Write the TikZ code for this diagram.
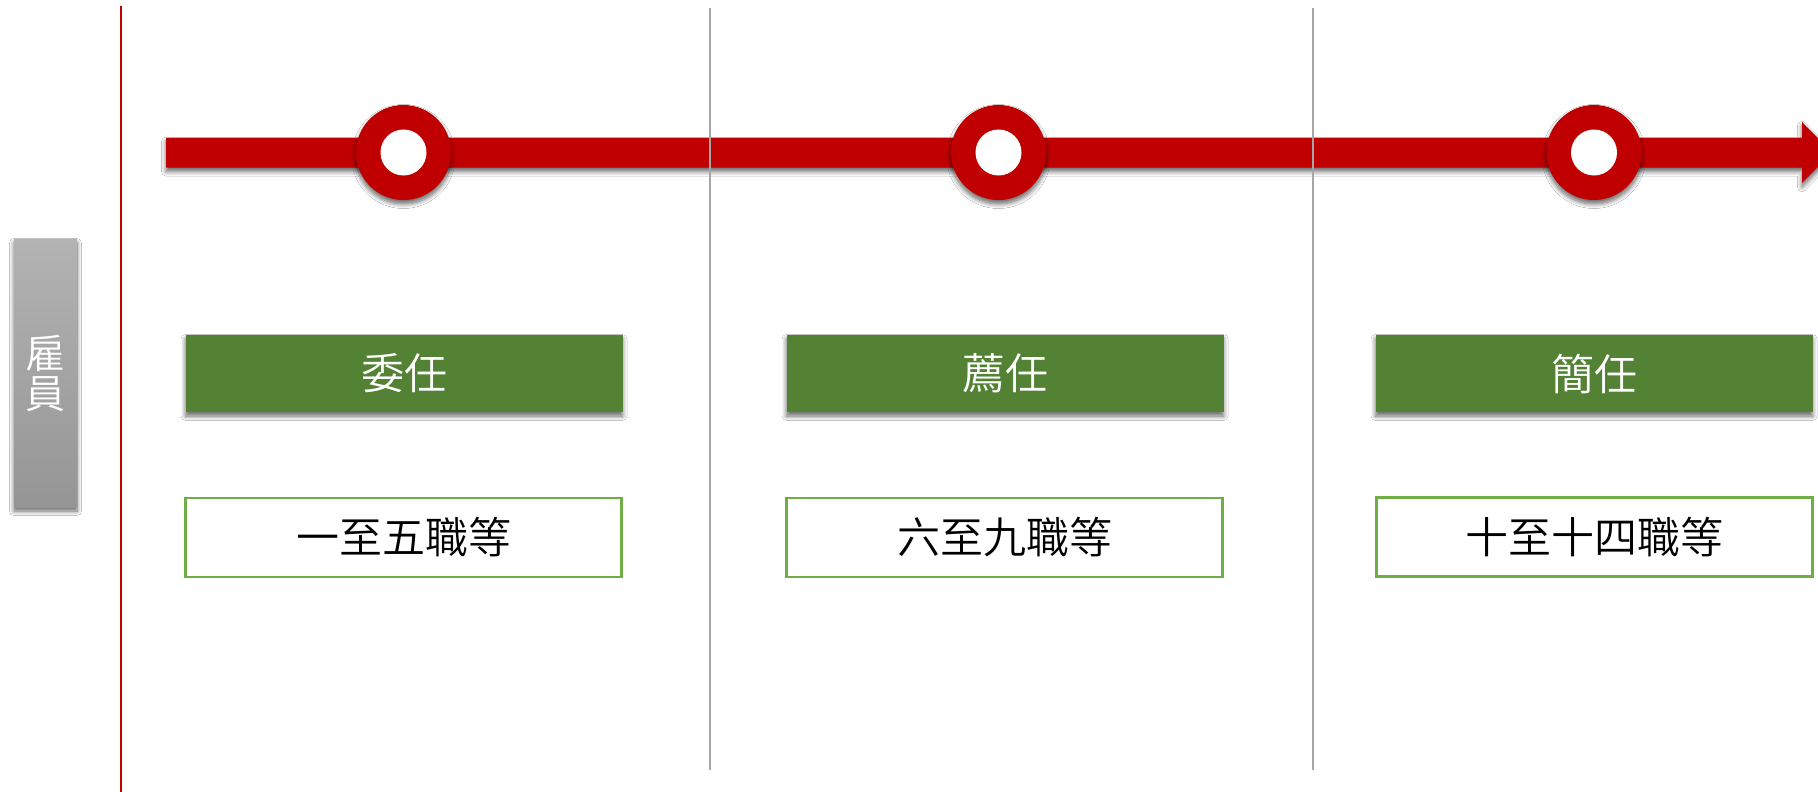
\documentclass[tikz,border=0pt]{standalone}
\usepackage{fontspec}
\newfontfamily\cjk{Noto Sans CJK TC}[UprightFont=* DemiLight]
\usetikzlibrary{shadows.blur}
\definecolor{barred}{HTML}{C00000}
\definecolor{rankgreen}{HTML}{548235}
\definecolor{edgegreen}{HTML}{70AD47}
\definecolor{divgray}{HTML}{A6A6A6}
\definecolor{boxtop}{HTML}{B3B3B3}
\definecolor{boxbot}{HTML}{959595}
\tikzset{
  softshadow/.style={blur shadow={shadow xshift=0pt, shadow yshift=-4pt, shadow blur radius=4.5pt, shadow blur steps=8, shadow opacity=60}},
  rankbox/.style={rectangle, fill=rankgreen, inner sep=0pt, minimum width=437, minimum height=77, text=white, font=\cjk\fontsize{43}{43}\selectfont, softshadow},
  gradebox/.style={rectangle, draw=edgegreen, line width=2.5pt, fill=white, inner sep=0pt, minimum width=436, minimum height=79, text=black, font=\cjk\fontsize{43}{43}\selectfont},
  divider/.style={draw=divgray, line width=2.5pt},
  ringouter/.style={circle, fill=barred, inner sep=0pt, minimum size=95, softshadow},
  ringinner/.style={circle, fill=white, inner sep=0pt, minimum size=46},
  sidebox/.style={rectangle, top color=boxtop, bottom color=boxbot, inner sep=0pt, minimum width=63, minimum height=268, text=white, font=\cjk\fontsize{40}{42}\selectfont, align=center, softshadow}
}
\begin{document}
\begin{tikzpicture}[x=1pt,y=-1pt]
\useasboundingbox (0,0) rectangle (1818,792);
\fill[white] (0,0) rectangle (1818,792);

% red timeline bar with arrow head
\fill[barred, softshadow] (166,137.5) -- (1802,137.5) -- (1802,122) -- (1832,152.5) -- (1802,183) -- (1802,167.5) -- (166,167.5) -- cycle;

% dividers
\coordinate (d1t) at (710,8);
\coordinate (d1b) at (710,770);
\coordinate (d2t) at (1313,8);
\coordinate (d2b) at (1313,770);
\draw[divider] (d1t) -- (d1b);
\draw[divider] (d2t) -- (d2b);

% red vertical line
\coordinate (rvt) at (121,6);
\coordinate (rvb) at (121,792);
\draw[barred, line width=2.2pt] (rvt) -- (rvb);

% rings
\node[ringouter] (c1) at (403.5,152.5) {};
\node[ringinner] (c1i) at (c1) {};
\node[ringouter] (c2) at (998.5,152.5) {};
\node[ringinner] (c2i) at (c2) {};
\node[ringouter] (c3) at (1594,152.5) {};
\node[ringinner] (c3i) at (c3) {};

% side label
\node[sidebox] (side) at (45.5,373) {雇\\[-2pt]員};

% rank boxes
\node[rankbox] (r1) at (404,373.5) {委任};
\node[rankbox] (r2) at (1005,373.5) {薦任};
\node[rankbox] (r3) at (1594,373.5) {簡任};

% grade boxes
\node[gradebox] (g1) at (403.5,537.5) {一至五職等};
\node[gradebox] (g2) at (1004.5,537.5) {六至九職等};
\node[gradebox] (g3) at (1594.5,537) {十至十四職等};
\end{tikzpicture}
\end{document}
